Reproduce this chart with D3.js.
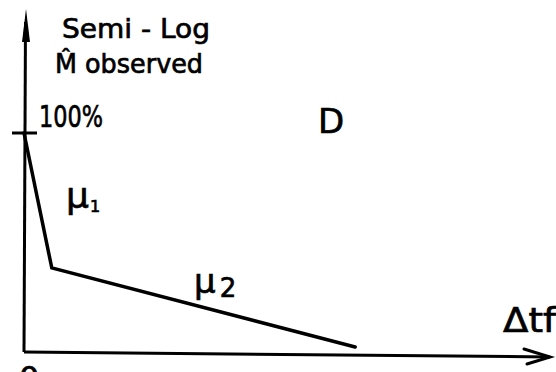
<!DOCTYPE html>
<html><head><meta charset="utf-8">
<script src="https://cdn.jsdelivr.net/npm/d3@7"></script>
<style>html,body{margin:0;padding:0;background:#fff;}svg{display:block;}
text{stroke:#000;stroke-width:0.7px;fill:#000;}</style>
</head><body>
<script>
// Data (sketch: observed M on semi-log scale vs Δtf, two slopes μ1 and μ2)
const tValues = [0, 5.3, 63.2];          // time positions (% of axis)
const mValues = [100, 38.4, 2.3];         // observed M (% of 100% mark)
const yTickValues = [100];
const yTickLabels = ["100%"];
const segmentLabels = ["μ", "μ"];
const segmentSubs = ["1", "2"];

const W = 556, H = 372;
const svg = d3.select("body").append("svg").attr("width", W).attr("height", H);
const x = d3.scaleLinear().domain([0, 100]).range([24, 548]);
const y = d3.scaleLinear().domain([0, 100]).range([352, 133]);
const font = "'DejaVu Sans', sans-serif";

// y axis with arrow
svg.append("line").attr("x1", x(0)).attr("y1", y(0)).attr("x2", 25.5).attr("y2", 22)
  .attr("stroke", "#000").attr("stroke-width", 3);
svg.append("path").attr("d", "M26,9 L22,42 L30,42 Z").attr("fill", "#000");

// x axis with open arrow
svg.append("line").attr("x1", x(0)).attr("y1", y(0)).attr("x2", 550).attr("y2", 357)
  .attr("stroke", "#000").attr("stroke-width", 3);
svg.append("path").attr("d", "M524,349 L550,357 L527,364")
  .attr("fill", "none").attr("stroke", "#000").attr("stroke-width", 3).attr("stroke-linecap", "round");

// y tick (100%)
yTickValues.forEach((v, i) => {
  svg.append("line").attr("x1", 12).attr("x2", 37).attr("y1", y(v)).attr("y2", y(v))
    .attr("stroke", "#000").attr("stroke-width", 3);
  svg.append("text").attr("x", 39).attr("y", y(v) - 6).attr("font-family", font)
    .attr("font-size", 30).attr("textLength", 64).attr("lengthAdjust", "spacingAndGlyphs")
    .text(yTickLabels[i]);
});

// the curve
const pts = tValues.map((t, i) => [x(t), y(mValues[i])]);
svg.append("path").attr("d", d3.line()(pts)).attr("fill", "none")
  .attr("stroke", "#000").attr("stroke-width", 3.5).attr("stroke-linejoin", "miter")
  .attr("stroke-linecap", "round");

// titles
svg.append("text").attr("x", 62).attr("y", 38).attr("font-family", font).attr("font-size", 27)
  .attr("textLength", 148).attr("lengthAdjust", "spacingAndGlyphs").text("Semi - Log");
svg.append("text").attr("x", 55).attr("y", 73).attr("font-family", font).attr("font-size", 27)
  .attr("textLength", 148).attr("lengthAdjust", "spacingAndGlyphs").text("M\u0302 observed");
svg.append("text").attr("x", 318).attr("y", 133).attr("font-family", font).attr("font-size", 34).text("D");

// segment labels
const lab1 = svg.append("text").attr("x", 66).attr("y", 208).attr("font-family", font).attr("font-size", 36);
lab1.append("tspan").text(segmentLabels[0]);
lab1.append("tspan").attr("dx", 1).attr("dy", 4).attr("font-size", 16).text(segmentSubs[0]);
const lab2 = svg.append("text").attr("x", 194).attr("y", 293).attr("font-family", font).attr("font-size", 34);
lab2.append("tspan").text(segmentLabels[1]);
lab2.append("tspan").attr("dx", 4).attr("dy", 4).attr("font-size", 26).text(segmentSubs[1]);

// x axis label and origin
svg.append("text").attr("x", 503).attr("y", 332).attr("font-family", font).attr("font-size", 34)
  .attr("textLength", 53).attr("lengthAdjust", "spacingAndGlyphs").text("Δtf");
svg.append("text").attr("x", 19).attr("y", 389).attr("font-family", font).attr("font-size", 32).text("0");
</script>
</body></html>
